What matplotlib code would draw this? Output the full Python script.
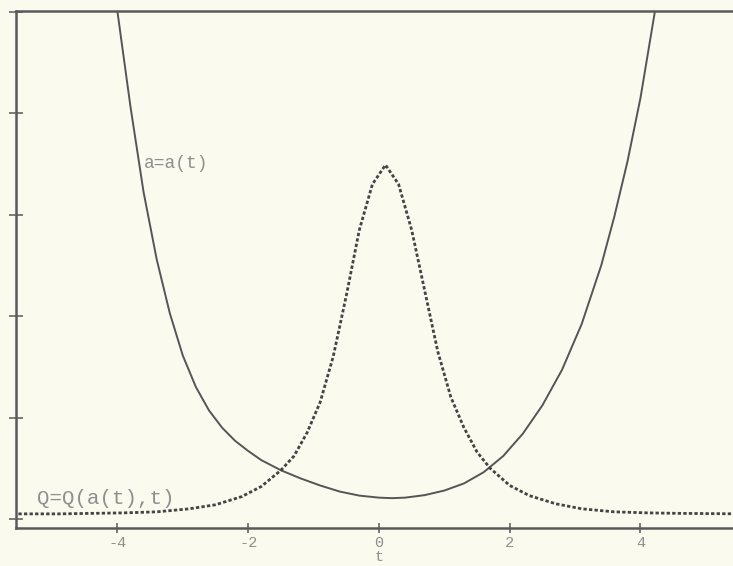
import matplotlib.pyplot as plt

# a = a(t)
t_a = [-4.0, -3.8, -3.6, -3.4, -3.2, -3.0, -2.8, -2.6, -2.4, -2.2,
       -2.0, -1.8, -1.5, -1.2, -0.9, -0.6, -0.3, 0.0, 0.2, 0.4,
       0.7, 1.0, 1.3, 1.6, 1.9, 2.2, 2.5, 2.8, 3.1, 3.4,
       3.6, 3.8, 4.0, 4.22]
a_vals = [5.0, 4.06, 3.22, 2.56, 2.03, 1.61, 1.30, 1.07, 0.90, 0.77,
          0.67, 0.58, 0.48, 0.40, 0.33, 0.27, 0.23, 0.21, 0.205, 0.21,
          0.235, 0.28, 0.35, 0.46, 0.62, 0.84, 1.12, 1.47, 1.92, 2.50,
          2.98, 3.52, 4.15, 5.0]

# Q = Q(a(t), t)
t_q = [-5.6, -4.9, -4.4, -3.9, -3.4, -2.9, -2.5, -2.1, -1.8, -1.5,
       -1.3, -1.1, -0.9, -0.7, -0.5, -0.3, -0.1, 0.1, 0.3, 0.5,
       0.7, 0.9, 1.1, 1.3, 1.5, 1.7, 2.0, 2.3, 2.7, 3.1,
       3.6, 4.1, 4.6, 5.6]
q_vals = [0.05, 0.05, 0.055, 0.06, 0.07, 0.1, 0.14, 0.22, 0.32, 0.48,
          0.62, 0.85, 1.15, 1.6, 2.2, 2.85, 3.3, 3.49, 3.3, 2.85,
          2.25, 1.65, 1.2, 0.9, 0.66, 0.5, 0.33, 0.23, 0.15, 0.1,
          0.07, 0.06, 0.055, 0.05]

x_ticks = [-4, -2, 0, 2, 4]
y_ticks = [0, 1, 2, 3, 4, 5]

bg = '#fbfaef'
ink = '#555555'
txt = '#8f8f8f'
mono = 'Liberation Mono'

fig = plt.figure(figsize=(7.33, 5.66), dpi=100, facecolor=bg)
ax = fig.add_axes([0.022, 0.067, 0.99, 0.914], facecolor=bg)

ax.plot(t_a, a_vals, color=ink, lw=1.4)
ax.plot(t_q, q_vals, color='#444444', lw=2.0, linestyle=(0, (1.2, 0.8)))

ax.text(-3.6, 3.5, 'a=a(t)', family=mono, fontsize=13,
        color=txt, va='center')
ax.text(-5.23, 0.2, 'Q=Q(a(t),t)', family=mono, fontsize=15,
        color=txt, va='center')

ax.set_xlim(-5.55, 5.55)
ax.set_ylim(-0.09, 5.01)
ax.set_xticks(x_ticks)
ax.set_xticklabels([str(v) for v in x_ticks], family=mono,
                   fontsize=11, color=txt)
ax.set_yticks(y_ticks)
ax.set_yticklabels([])
ax.tick_params(axis='x', direction='inout', length=7, width=1.2,
               color='#666666', pad=2)
ax.tick_params(axis='y', direction='inout', length=10, width=1.2,
               color='#666666')
ax.set_xlabel('t', family=mono, fontsize=11, color=txt, labelpad=0)

for side in ['left', 'top', 'bottom']:
    ax.spines[side].set_color('#5a5a5a')
    ax.spines[side].set_linewidth(1.8)
ax.spines['right'].set_visible(False)

fig.savefig('out.png', dpi=100, facecolor=bg)
